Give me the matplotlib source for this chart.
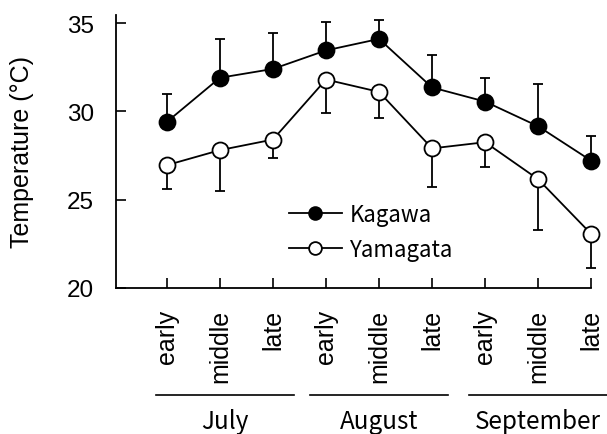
import numpy as np
import matplotlib.pyplot as plt

# ── data ──────────────────────────────────────
periods = ["early", "middle", "late"] * 3
months = ["July", "August", "September"]
month_centers = [2.1, 5.0, 8.0]

kagawa = [29.4, 31.9, 32.4, 33.45, 34.1, 31.35, 30.55, 29.15, 27.2]
kagawa_up = [1.6, 2.2, 2.05, 1.6, 1.1, 1.85, 1.35, 2.4, 1.4]

yamagata = [26.95, 27.8, 28.4, 31.8, 31.1, 27.9, 28.25, 26.15, 23.05]
yamagata_down = [1.35, 2.3, 1.05, 1.9, 1.5, 2.2, 1.4, 2.9, 1.9]
# ──────────────────────────────────────────────

x = np.arange(1, len(periods) + 1)
zeros = np.zeros(len(x))

fig = plt.figure(figsize=(6.07, 4.35), dpi=100)
ax = fig.add_axes([0.191, 0.336, 0.783, 0.627])

for vals, err in [(kagawa, [zeros, kagawa_up]), (yamagata, [yamagata_down, zeros])]:
    _, caps, bars = ax.errorbar(x, vals, yerr=err, fmt="none", ecolor="black",
                                elinewidth=1.3, capsize=3.6, capthick=1.3, zorder=1)
    for art in list(caps) + list(bars):
        art.set_clip_on(False)

ax.plot(x, kagawa, color="black", lw=1.3, marker="o", ms=11.5,
        mfc="black", mec="black", mew=1.3, label="Kagawa", zorder=3, clip_on=False)
ax.plot(x, yamagata, color="black", lw=1.3, marker="o", ms=11.5,
        mfc="white", mec="black", mew=1.3, label="Yamagata", zorder=3, clip_on=False)

ax.set_xlim(0.04, 9)
ax.set_ylim(20, 35.45)
ax.set_yticks([20, 25, 30, 35])
ax.set_xticks(x)
ax.set_xticklabels([])
ax.tick_params(direction="in", length=7, width=1.2)
ax.tick_params(axis="y", labelsize=17.5, pad=16)
for lab in ax.get_yticklabels():
    lab.set_family("Liberation Sans")
for side in ["top", "right"]:
    ax.spines[side].set_visible(False)
for side in ["left", "bottom"]:
    ax.spines[side].set_linewidth(1.3)

ax.set_ylabel("Temperature (°C)", fontsize=18, family="Liberation Sans")
ax.yaxis.set_label_coords(-0.172, 0.5)

# period labels under each tick
for xi, p in zip(x, periods):
    ax.annotate(p, xy=(xi, 0), xycoords=("data", "axes fraction"),
                xytext=(0, -15), textcoords="offset points",
                rotation=90, ha="center", va="top", fontsize=18,
                family="Liberation Sans")

# month brackets
trans = ax.get_xaxis_transform()
for c, m in zip(month_centers, months):
    ax.plot([c - 1.3, c + 1.3], [-0.392, -0.392], transform=trans,
            color="black", lw=1.2, clip_on=False)
    ax.text(c, -0.513, m, transform=trans, ha="center", va="baseline",
            fontsize=17.5, family="Noto Sans CJK JP")

leg = ax.legend(loc="upper left", bbox_to_anchor=(0.345, 0.345), frameon=False,
                handlelength=2.4, handletextpad=0.33, labelspacing=0.55,
                markerscale=0.8, borderaxespad=0,
                prop={"family": "Noto Sans CJK JP", "size": 16})

fig.savefig("out.png", dpi=100)
